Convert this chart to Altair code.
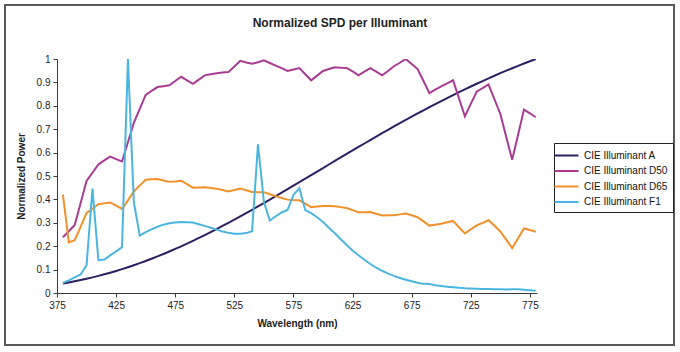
import altair as alt
import pandas as pd

wavelengths = list(range(380, 785, 5))

illum_a = [0.0405, 0.0451, 0.0500, 0.0553, 0.0609, 0.0668, 0.0731, 0.0798, 0.0869, 0.0943,
           0.1021, 0.1102, 0.1188, 0.1277, 0.1369, 0.1465, 0.1565, 0.1668, 0.1774, 0.1883,
           0.1996, 0.2112, 0.2231, 0.2353, 0.2477, 0.2604, 0.2734, 0.2866, 0.3000, 0.3136,
           0.3274, 0.3414, 0.3556, 0.3700, 0.3845, 0.3991, 0.4138, 0.4286, 0.4435, 0.4585,
           0.4735, 0.4886, 0.5037, 0.5188, 0.5340, 0.5491, 0.5642, 0.5792, 0.5943, 0.6092,
           0.6241, 0.6389, 0.6537, 0.6683, 0.6828, 0.6973, 0.7116, 0.7257, 0.7397, 0.7536,
           0.7673, 0.7808, 0.7942, 0.8074, 0.8204, 0.8332, 0.8458, 0.8582, 0.8704, 0.8825,
           0.8943, 0.9058, 0.9172, 0.9284, 0.9393, 0.9500, 0.9604, 0.9707, 0.9807, 0.9905,
           1.0]

illum_d50 = [0.238, 0.264, 0.291, 0.385, 0.479, 0.514, 0.549, 0.567, 0.583, 0.572,
             0.562, 0.644, 0.727, 0.787, 0.847, 0.864, 0.880, 0.884, 0.888, 0.906,
             0.924, 0.909, 0.894, 0.912, 0.930, 0.935, 0.939, 0.942, 0.944, 0.968,
             0.992, 0.985, 0.980, 0.986, 0.994, 0.983, 0.972, 0.961, 0.949, 0.955,
             0.961, 0.935, 0.909, 0.929, 0.949, 0.957, 0.965, 0.963, 0.962, 0.947,
             0.930, 0.946, 0.961, 0.946, 0.930, 0.949, 0.969, 0.984, 1.0, 0.979,
             0.957, 0.906, 0.854, 0.869, 0.883, 0.896, 0.909, 0.832, 0.755, 0.808,
             0.860, 0.876, 0.891, 0.828, 0.765, 0.667, 0.569, 0.676, 0.784, 0.768,
             0.751]

illum_d65 = [0.420, 0.216, 0.226, 0.284, 0.342, 0.360, 0.379, 0.383, 0.387, 0.373,
             0.359, 0.396, 0.434, 0.459, 0.484, 0.486, 0.487, 0.481, 0.475, 0.477,
             0.480, 0.465, 0.450, 0.451, 0.452, 0.449, 0.446, 0.440, 0.434, 0.440,
             0.446, 0.439, 0.432, 0.431, 0.431, 0.422, 0.414, 0.406, 0.399, 0.397,
             0.396, 0.382, 0.367, 0.370, 0.372, 0.372, 0.371, 0.367, 0.363, 0.354,
             0.345, 0.345, 0.346, 0.339, 0.331, 0.332, 0.332, 0.336, 0.340, 0.332,
             0.324, 0.306, 0.288, 0.292, 0.296, 0.302, 0.308, 0.281, 0.255, 0.272,
             0.289, 0.300, 0.311, 0.287, 0.263, 0.228, 0.192, 0.234, 0.276, 0.269,
             0.262]

illum_f1 = [0.043, 0.054, 0.067, 0.079, 0.118, 0.446, 0.140, 0.143, 0.161, 0.178,
            0.196, 1.0, 0.388, 0.245, 0.260, 0.272, 0.283, 0.292, 0.298, 0.301,
            0.303, 0.302, 0.301, 0.294, 0.287, 0.279, 0.271, 0.263, 0.257, 0.253,
            0.253, 0.256, 0.264, 0.635, 0.390, 0.310, 0.328, 0.344, 0.355, 0.419,
            0.448, 0.354, 0.341, 0.324, 0.303, 0.279, 0.255, 0.230, 0.205, 0.182,
            0.161, 0.142, 0.124, 0.108, 0.095, 0.083, 0.073, 0.064, 0.057, 0.050,
            0.044, 0.039, 0.038, 0.033, 0.030, 0.027, 0.025, 0.022, 0.020, 0.019,
            0.018, 0.017, 0.017, 0.016, 0.016, 0.015, 0.016, 0.016, 0.014, 0.012,
            0.010]

series_names = ["CIE Illuminant A", "CIE Illuminant D50", "CIE Illuminant D65", "CIE Illuminant F1"]
series_colors = ["#2c1f63", "#a93b93", "#f1912b", "#4ab6e0"]
x_ticks = [375, 425, 475, 525, 575, 625, 675, 725, 775]
y_ticks = [0, 0.1, 0.2, 0.3, 0.4, 0.5, 0.6, 0.7, 0.8, 0.9, 1]

rows = []
for name, vals in zip(series_names, [illum_a, illum_d50, illum_d65, illum_f1]):
    for i, (w, v) in enumerate(zip(wavelengths, vals)):
        rows.append({"wl": w, "val": v, "series": name, "order": i})
df = pd.DataFrame(rows)

FONT = "Liberation Sans"
AX = "#3a3a3a"

lines = alt.Chart(df).mark_line(strokeWidth=2, clip=True).encode(
    x=alt.X("wl:Q", scale=alt.Scale(domain=[375, 781], nice=False, zero=False),
            axis=alt.Axis(values=x_ticks, format="d", title="Wavelength (nm)",
                          grid=False, tickSize=4, labelPadding=3, labelFontSize=10,
                          labelFont=FONT, labelColor="#222", domainColor=AX, tickColor=AX,
                          titleFont=FONT, titleFontSize=10, titleFontWeight="bold",
                          titleColor="#222", titlePadding=8, labelFlush=False)),
    y=alt.Y("val:Q", scale=alt.Scale(domain=[0, 1], nice=False),
            axis=alt.Axis(values=y_ticks, format="~g", title="Normalized Power",
                          grid=False, tickSize=4, labelPadding=3, labelFontSize=10,
                          labelFont=FONT, labelColor="#222", domainColor=AX, tickColor=AX,
                          titleFont=FONT, titleFontSize=10, titleFontWeight="bold",
                          titleColor="#222", titlePadding=10, labelFlush=False)),
    color=alt.Color("series:N", scale=alt.Scale(domain=series_names, range=series_colors),
                    legend=alt.Legend(title=None, orient="none", legendX=497, legendY=84,
                                      symbolType="M-1.85,0H1.85", symbolSize=169,
                                      symbolStrokeWidth=2, labelFont=FONT, labelFontSize=10,
                                      labelColor="#111", labelOffset=10, rowPadding=2.5,
                                      padding=5, strokeColor="#222", fillColor="white",
                                      labelLimit=200)),
    order="order:Q",
)

frame = alt.Chart(alt.Data(values=[{"a": 1}])).mark_rect(
    fill="transparent", stroke="#595959", strokeWidth=2
).encode(x=alt.value(-52), x2=alt.value(617), y=alt.value(-54), y2=alt.value(286))

title = alt.Chart(alt.Data(values=[{"a": 1}])).mark_text(
    font=FONT, fontSize=12, fontWeight="bold", color="#222", align="center", baseline="middle"
).encode(x=alt.value(283), y=alt.value(-36), text=alt.value("Normalized SPD per Illuminant"))

chart = alt.layer(lines, frame, title).properties(
    width=480, height=234,
    autosize=alt.AutoSizeParams(type="none"),
    padding={"left": 57, "top": 59, "right": 143, "bottom": 59},
    background="white",
).configure_view(stroke="transparent")

chart.save("out.html", embed_options={"renderer": "svg", "actions": False})
